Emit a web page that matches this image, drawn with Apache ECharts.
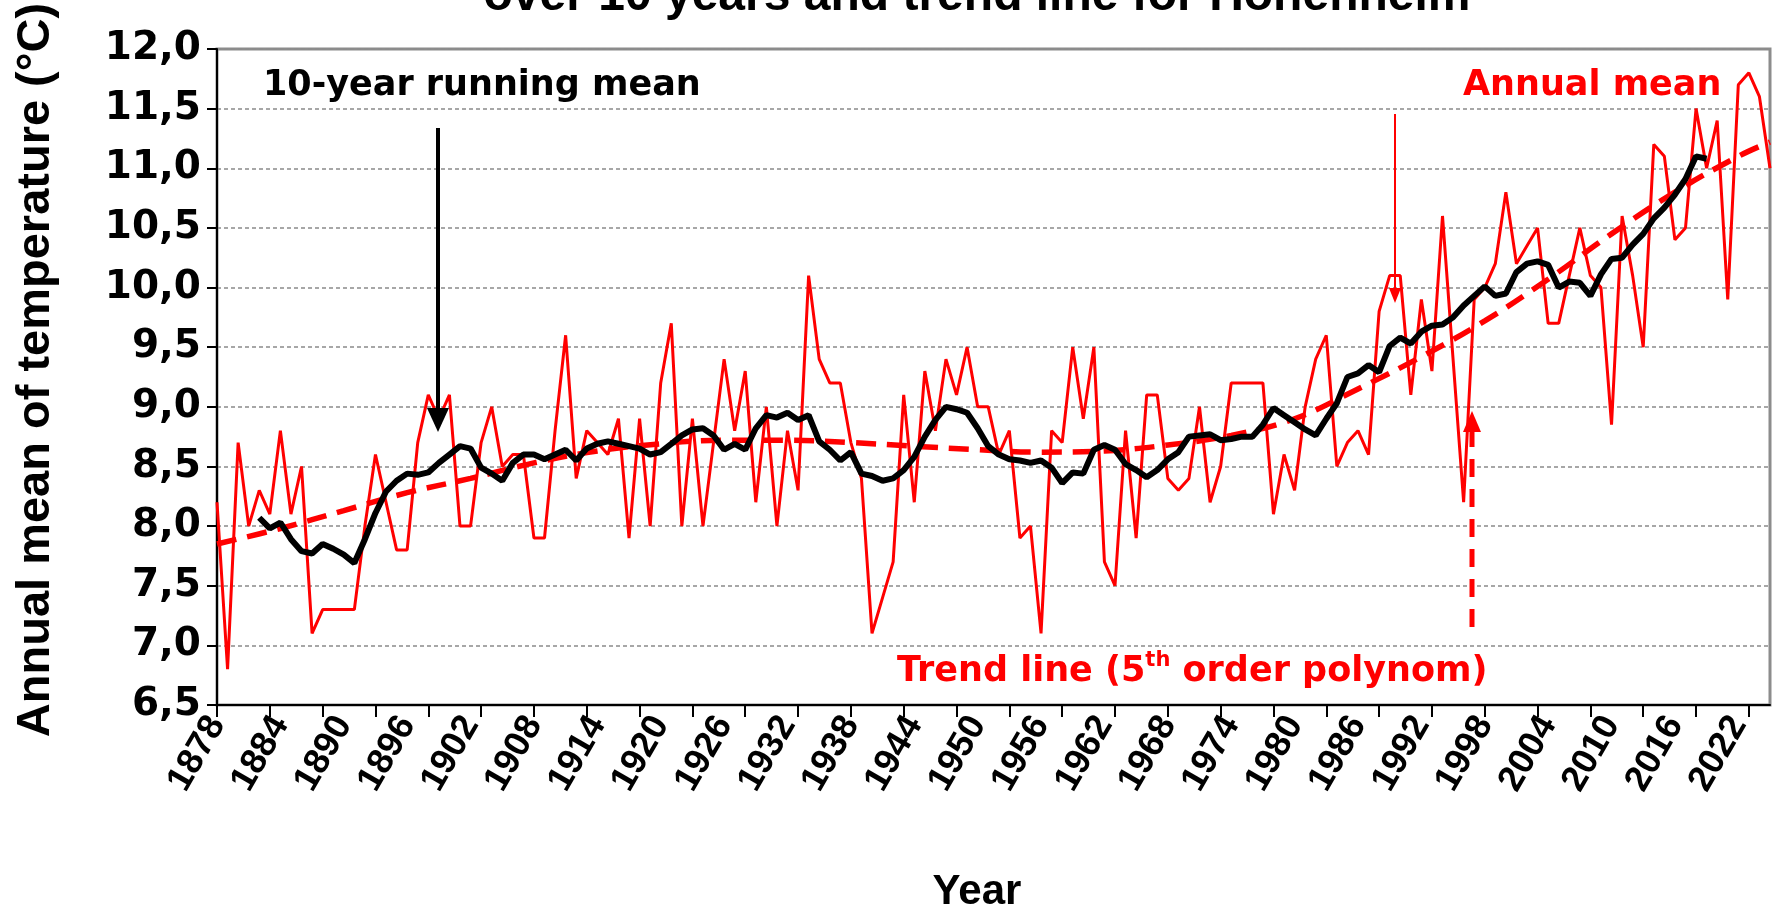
<!DOCTYPE html>
<html>
<head>
<meta charset="utf-8">
<title>Hohenheim annual mean temperature</title>
<script src="https://cdn.jsdelivr.net/npm/echarts@6/dist/echarts.min.js"></script>
<style>
  html, body { margin: 0; padding: 0; background: #fff; }
  #main { width: 1781px; height: 914px; }
</style>
</head>
<body>
<div id="main"></div>
<script>
// category axis: one entry per year
var firstYear = 1878;
var lastYear = 2025;
var years = [];
for (var y = firstYear; y <= lastYear; y++) years.push(String(y));

// annual mean 1878..2025
var annualMean = [
  8.2, 6.8, 8.7, 8.0, 8.3, 8.1, 8.8, 8.1, 8.5, 7.1,   // 1878-1887
  7.3, 7.3, 7.3, 7.3, 8.0, 8.6, 8.2, 7.8, 7.8, 8.7,   // 1888-1897
  9.1, 8.9, 9.1, 8.0, 8.0, 8.7, 9.0, 8.5, 8.6, 8.6,   // 1898-1907
  7.9, 7.9, 8.8, 9.6, 8.4, 8.8, 8.7, 8.6, 8.9, 7.9,   // 1908-1917
  8.9, 8.0, 9.2, 9.7, 8.0, 8.9, 8.0, 8.7, 9.4, 8.8,   // 1918-1927
  9.3, 8.2, 9.0, 8.0, 8.8, 8.3, 10.1, 9.4, 9.2, 9.2,  // 1928-1937
  8.7, 8.4, 7.1, 7.4, 7.7, 9.1, 8.2, 9.3, 8.8, 9.4,   // 1938-1947
  9.1, 9.5, 9.0, 9.0, 8.6, 8.8, 7.9, 8.0, 7.1, 8.8,   // 1948-1957
  8.7, 9.5, 8.9, 9.5, 7.7, 7.5, 8.8, 7.9, 9.1, 9.1,   // 1958-1967
  8.4, 8.3, 8.4, 9.0, 8.2, 8.5, 9.2, 9.2, 9.2, 9.2,   // 1968-1977
  8.1, 8.6, 8.3, 9.0, 9.4, 9.6, 8.5, 8.7, 8.8, 8.6,   // 1978-1987
  9.8, 10.1, 10.1, 9.1, 9.9, 9.3, 10.6, 9.4, 8.2, 9.9, // 1988-1997
  10.0, 10.2, 10.8, 10.2, 10.35, 10.5, 9.7, 9.7, 10.1, 10.5, // 1998-2007
  10.1, 10.0, 8.85, 10.6, 10.1, 9.5, 11.2, 11.1, 10.4, 10.5, // 2008-2017
  11.5, 11.0, 11.4, 9.9, 11.7, 11.8, 11.6, 11.0        // 2018-2025
];

// 10-year running mean, first value plotted at 1882
var runningStart = 1882;
var runningMean = [
  8.07, 7.98, 8.03, 7.89, 7.79, 7.77, 7.85, 7.81, 7.76, 7.69,  // 1882-1891
  7.89, 8.11, 8.29, 8.38, 8.44, 8.43, 8.45, 8.53, 8.60, 8.67,  // 1892-1901
  8.65, 8.49, 8.44, 8.38, 8.53, 8.60, 8.60, 8.56, 8.60, 8.64,  // 1902-1911
  8.55, 8.65, 8.69, 8.71, 8.69, 8.67, 8.65, 8.60, 8.62, 8.69,  // 1912-1921
  8.76, 8.81, 8.82, 8.76, 8.64, 8.69, 8.64, 8.82, 8.93, 8.91,  // 1922-1931
  8.95, 8.89, 8.93, 8.71, 8.64, 8.55, 8.62, 8.44, 8.42, 8.38,  // 1932-1941
  8.40, 8.47, 8.58, 8.75, 8.89, 9.00, 8.98, 8.95, 8.82, 8.67,  // 1942-1951
  8.60, 8.56, 8.55, 8.53, 8.55, 8.49, 8.36, 8.45, 8.44, 8.64,  // 1952-1961
  8.68, 8.64, 8.52, 8.47, 8.41, 8.47, 8.56, 8.62, 8.75, 8.76,  // 1962-1971
  8.77, 8.72, 8.73, 8.75, 8.75, 8.85, 8.99, 8.93, 8.87, 8.81,  // 1972-1981
  8.76, 8.90, 9.03, 9.25, 9.28, 9.35, 9.29, 9.51, 9.58, 9.53,  // 1982-1991
  9.63, 9.68, 9.69, 9.75, 9.85, 9.93, 10.01, 9.93, 9.95, 10.13, // 1992-2001
  10.20, 10.22, 10.19, 10.00, 10.05, 10.04, 9.93, 10.11, 10.24, 10.25, // 2002-2011
  10.36, 10.45, 10.58, 10.67, 10.78, 10.91, 11.10, 11.08      // 2012-2019
];

// 5th order polynomial trend, read at a few years
var trendYears = [1878, 1884, 1890, 1896, 1902, 1908, 1914, 1920, 1926, 1932, 1938, 1944, 1950,
  1956, 1962, 1968, 1974, 1980, 1986, 1992, 1998, 2004, 2010, 2016, 2022, 2025];
var trendValues = [7.85, 7.98, 8.13, 8.28, 8.40, 8.53, 8.63, 8.69, 8.72, 8.72, 8.70, 8.67, 8.64,
  8.62, 8.63, 8.68, 8.76, 8.90, 9.15, 9.42, 9.72, 10.07, 10.45, 10.80, 11.10, 11.22];

var runningData = years.map(function (yr) {
  var i = Number(yr) - runningStart;
  return (i >= 0 && i < runningMean.length) ? runningMean[i] : null;
});
var trendData = trendYears.map(function (yr, i) {
  return [String(yr), trendValues[i]];
});

var myChart = echarts.init(document.getElementById('main'));

var annotFont = 'DejaVu Sans';
var option = {
  animation: false,
  backgroundColor: '#fff',
  grid: {
    left: 217, right: 11, top: 49, bottom: 209,
    show: true, borderColor: '#8c8c8c', borderWidth: 3
  },
  xAxis: {
    type: 'category',
    data: years,
    boundaryGap: false,
    axisLine: { lineStyle: { color: '#000', width: 2 } },
    axisTick: { interval: 4, length: 12, lineStyle: { color: '#000', width: 2 } },
    axisLabel: {
      interval: 5, rotate: 60, margin: 14,
      fontFamily: 'Liberation Sans', fontWeight: 'bold', fontSize: 36, color: '#000'
    },
    splitLine: { show: false }
  },
  yAxis: {
    type: 'value',
    min: 6.5, max: 12, interval: 0.5,
    axisLine: { show: true, lineStyle: { color: '#000', width: 2 } },
    axisTick: { show: true, length: 10, lineStyle: { color: '#000', width: 2 } },
    axisLabel: {
      margin: 16,
      fontFamily: 'DejaVu Sans', fontWeight: 'bold', fontSize: 39, color: '#000',
      formatter: function (v) { return v.toFixed(1).replace('.', ','); }
    },
    splitLine: { show: true, lineStyle: { color: '#8a8a8a', width: 1.5, type: [4, 3] } }
  },
  series: [
    {
      name: 'Annual mean',
      type: 'line',
      data: annualMean,
      symbol: 'none',
      lineStyle: { color: '#ff0000', width: 3 },
      z: 2
    },
    {
      name: 'Trend line',
      type: 'line',
      data: trendData,
      symbol: 'none',
      smooth: 0.4,
      lineStyle: { color: '#ff0000', width: 5.5, type: [20, 11] },
      z: 3
    },
    {
      name: '10-year running mean',
      type: 'line',
      data: runningData,
      symbol: 'none',
      connectNulls: false,
      lineStyle: { color: '#000', width: 6 },
      z: 4
    }
  ],
  graphic: [
    // title, cut off at the top of the picture
    {
      type: 'text', x: 977, y: 21, z: 10,
      style: {
        text: 'over 10 years and trend line for Hohenheim',
        fontFamily: 'Liberation Sans', fontWeight: 'bold', fontSize: 48,
        fill: '#000', textAlign: 'center', textVerticalAlign: 'bottom'
      }
    },
    // y axis name
    {
      type: 'text', x: 36, y: 370, rotation: Math.PI / 2, z: 10,
      style: {
        text: 'Annual mean of temperature (°C)',
        fontFamily: 'Liberation Sans', fontWeight: 'bold', fontSize: 47,
        fill: '#000', textAlign: 'center', textVerticalAlign: 'middle'
      }
    },
    // x axis name
    {
      type: 'text', x: 977, y: 892, z: 10,
      style: {
        text: 'Year',
        fontFamily: 'Liberation Sans', fontWeight: 'bold', fontSize: 42,
        fill: '#000', textAlign: 'center', textVerticalAlign: 'middle'
      }
    },
    // annotations
    {
      type: 'text', x: 263, y: 86, z: 10,
      style: {
        text: '10-year running mean',
        fontFamily: annotFont, fontWeight: 'bold', fontSize: 35,
        fill: '#000', textVerticalAlign: 'middle'
      }
    },
    {
      type: 'line', z: 10,
      shape: { x1: 438, y1: 128, x2: 438, y2: 412 },
      style: { stroke: '#000', lineWidth: 4 }
    },
    {
      type: 'polygon', z: 10,
      shape: { points: [[427, 408], [449, 408], [438, 432]] },
      style: { fill: '#000' }
    },
    {
      type: 'text', x: 1463, y: 86, z: 10,
      style: {
        text: 'Annual mean',
        fontFamily: annotFont, fontWeight: 'bold', fontSize: 35,
        fill: '#ff0000', textVerticalAlign: 'middle'
      }
    },
    {
      type: 'line', z: 10,
      shape: { x1: 1395, y1: 114, x2: 1395, y2: 292 },
      style: { stroke: '#ff0000', lineWidth: 2 }
    },
    {
      type: 'polygon', z: 10,
      shape: { points: [[1389, 288], [1401, 288], [1395, 303]] },
      style: { fill: '#ff0000' }
    },
    {
      type: 'text', x: 897, y: 672, z: 10,
      style: {
        text: '{a|Trend line (5}{s|th}{a| order polynom)}',
        textVerticalAlign: 'middle',
        rich: {
          a: { fontFamily: annotFont, fontWeight: 'bold', fontSize: 35, fill: '#ff0000', color: '#ff0000' },
          s: { fontFamily: annotFont, fontWeight: 'bold', fontSize: 21, fill: '#ff0000', color: '#ff0000', verticalAlign: 'top', padding: [0, 0, 22, 0] }
        }
      }
    },
    {
      type: 'line', z: 10,
      shape: { x1: 1472, y1: 627, x2: 1472, y2: 428 },
      style: { stroke: '#ff0000', lineWidth: 5, lineDash: [18, 12] }
    },
    {
      type: 'polygon', z: 10,
      shape: { points: [[1463, 432], [1481, 432], [1472, 411]] },
      style: { fill: '#ff0000' }
    }
  ]
};

myChart.setOption(option);
</script>
</body>
</html>
